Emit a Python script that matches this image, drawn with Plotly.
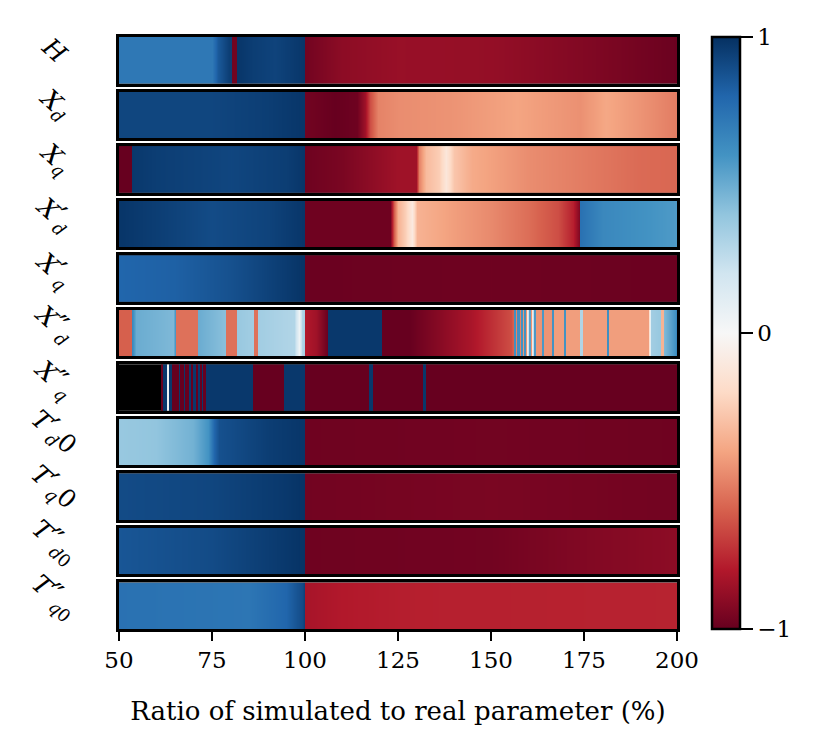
import plotly.graph_objects as go
from plotly.subplots import make_subplots

# row labels, top to bottom
P1 = '<span style="font-size:30px">′</span>'
P2 = '<span style="font-size:30px">″</span>'
labels = [
    "<i>H</i>",
    "<i>X</i><sub><i>d</i></sub>",
    "<i>X</i><sub><i>q</i></sub>",
    "<i>X</i>" + P1 + "<sub><i>d</i></sub>",
    "<i>X</i>" + P1 + "<sub><i>q</i></sub>",
    "<i>X</i>" + P2 + "<sub><i>d</i></sub>",
    "<i>X</i>" + P2 + "<sub><i>q</i></sub>",
    "<i>T</i>" + P1 + "<sub><i>d</i></sub>0",
    "<i>T</i>" + P1 + "<sub><i>q</i></sub>0",
    "<i>T</i>" + P2 + "<sub><i>d</i>0</sub>",
    "<i>T</i>" + P2 + "<sub><i>q</i>0</sub>",
]

# smooth rows: ratio (%) and correlation value
h_x = [50, 75, 76.5, 79.5, 80.2, 80.25, 81.7, 81.75, 86, 92, 99.97, 100.03, 110, 125, 150, 175, 200]
h_v = [0.72, 0.72, 0.85, 0.95, 0.95, -0.97, -0.97, 0.98, 0.95, 0.93, 0.98, -0.97, -0.9, -0.87, -0.88, -0.93, -0.99]

xd_x = [50, 75, 90, 99.97, 100.03, 108, 114, 116, 117.5, 119.5, 125, 140, 157, 165, 174, 181, 190, 200]
xd_v = [0.92, 0.92, 0.95, 0.98, -0.97, -1, -0.98, -0.85, -0.65, -0.5, -0.47, -0.45, -0.4, -0.43, -0.46, -0.39, -0.45, -0.52]

xq_x = [50, 53.38, 53.42, 60, 80, 95, 99.97, 100.03, 110, 125, 129.8, 130.6, 132.5, 136, 138, 140, 145, 160, 175, 190, 200]
xq_v = [-1, -1, 0.97, 0.95, 0.92, 0.95, 0.98, -0.98, -0.95, -0.85, -0.85, -0.5, -0.32, -0.25, -0.12, -0.28, -0.38, -0.47, -0.52, -0.57, -0.58]

xdp_x = [50, 60, 75, 90, 99.97, 100.03, 122.8, 123.8, 125, 127, 128.7, 130, 140, 150, 160, 168, 172, 173.97, 174.03, 180, 200]
xdp_v = [0.98, 0.95, 0.9, 0.93, 0.98, -0.98, -0.98, -0.6, -0.35, -0.25, -0.1, -0.35, -0.42, -0.48, -0.56, -0.65, -0.78, -0.95, 0.75, 0.65, 0.57]

xqp_x = [50, 65, 80, 95, 99.97, 100.03, 150, 200]
xqp_v = [0.8, 0.82, 0.88, 0.96, 0.99, -0.99, -0.98, -0.99]

xdpp_x = [50, 53.38, 53.42, 54.5, 64.5, 65.25, 65.3, 71.2, 71.25, 78.6, 78.65, 81.75, 81.8, 86.15, 86.2, 87.35, 87.4,
          97, 98.5, 99.2, 99.97, 100.03, 103, 106.2, 106.25, 120.55, 120.6, 128, 145, 155.5, 156.0,
          156.2, 156.6, 156.8, 157.1, 157.5, 157.7, 158.0, 158.4, 158.6, 158.9, 159.3, 159.5,
          160.2, 160.6, 160.8, 161.5, 161.9, 162.1,
          163.6, 163.75, 164.15, 164.3, 166.3, 166.45, 166.85, 167.0, 169.5, 169.65, 170.05, 170.2,
          173.8, 173.95, 174.45, 174.6, 181.0, 181.15, 181.55, 181.7,
          192.3, 193, 195.5, 195.8, 196.2, 196.5, 199.5, 200]
xdpp_v = [-0.6, -0.6, 0.65, 0.5, 0.45, 0.65, -0.55, -0.55, 0.5, 0.42, -0.55, -0.55, 0.38, 0.35, -0.55, -0.55, 0.35,
          0.3, 0.05, 0.3, 0.35, -0.8, -0.85, -1, 0.97, 0.97, -1, -1, -0.82, -0.65, -0.6,
          0.62, 0.62, -0.5, 0.62, 0.62, -0.5, 0.6, 0.6, -0.45, 0.6, 0.6, -0.45,
          0.55, 0.55, -0.45, 0.58, 0.58, -0.45,
          -0.45, 0.58, 0.58, -0.45, -0.45, 0.6, 0.6, -0.42, -0.42, 0.6, 0.6, -0.42,
          -0.42, 0.3, 0.3, -0.42, -0.42, 0.62, 0.62, -0.42,
          -0.42, 0.35, 0.38, -0.35, -0.35, 0.45, 0.6, 0.7]

tdp_x = [50, 60, 70, 74, 75.5, 77, 90, 99.97, 100.03, 150, 200]
tdp_v = [0.38, 0.4, 0.48, 0.6, 0.8, 0.88, 0.95, 0.98, -0.98, -0.97, -0.98]

tqp_x = [50, 75, 95, 99.97, 100.03, 150, 200]
tqp_v = [0.9, 0.92, 0.97, 0.99, -0.97, -0.95, -0.97]

tdpp_x = [50, 75, 95, 99.97, 100.03, 150, 175, 200]
tdpp_v = [0.86, 0.9, 0.97, 0.99, -0.98, -0.97, -0.93, -0.9]

tqpp_x = [50, 85, 95, 99.3, 99.97, 100.03, 110, 130, 200]
tqpp_v = [0.75, 0.73, 0.8, 0.9, 0.95, -0.83, -0.8, -0.78, -0.77]

# X''_q row: sharp blocks, cell edges and values (None = not computed)
xqpp_edges = [50, 61.25, 61.79, 62.99, 63.39, 64.33, 66.07, 66.47, 67.41, 67.81, 68.75, 69.42, 69.96,
              70.63, 71.16, 71.70, 72.37, 72.63, 73.30, 86.08, 94.28, 100.09, 117.31, 118.38,
              131.6, 132.5, 200]
xqpp_v = [None, -1, 0.97, 0.05, 0.97, -1, 0.97, -1, 0.97, -1, 0.97, -1, 0.97,
          -1, 0.97, -1, 0.97, -1, 0.97, -1, 0.97, -1, 0.97, -1, 0.97, -1]

smooth_rows = {
    0: (h_x, h_v), 1: (xd_x, xd_v), 2: (xq_x, xq_v), 3: (xdp_x, xdp_v), 4: (xqp_x, xqp_v),
    5: (xdpp_x, xdpp_v), 7: (tdp_x, tdp_v), 8: (tqp_x, tqp_v), 9: (tdpp_x, tdpp_v), 10: (tqpp_x, tqpp_v),
}

rdbu = ["#67001f", "#b2182b", "#d6604d", "#f4a582", "#fddbc7", "#f7f7f7",
        "#d1e5f0", "#92c5de", "#4393c3", "#2166ac", "#053061"]
colorscale = [[i / 10, c] for i, c in enumerate(rdbu)]

FONT = "DejaVu Serif"
n = len(labels)
fig = make_subplots(rows=n, cols=1, shared_xaxes=True, vertical_spacing=0.0135)

for i in range(n):
    common = dict(colorscale=colorscale, zmin=-1, zmax=1, hoverinfo="skip",
                  showscale=(i == 0))
    if i == 0:
        common["colorbar"] = dict(
            x=1.063, xanchor="left", y=0.5, yanchor="middle", len=1.0, lenmode="fraction",
            thickness=28, xpad=0, ypad=0, outlinewidth=2.5, outlinecolor="black",
            tickvals=[-1, 0, 1], ticktext=["−1", "0", "1"], ticks="outside", ticklen=12,
            tickwidth=2, tickcolor="black", tickfont=dict(family=FONT, size=23, color="black"),
        )
    if i in smooth_rows:
        xs, vs = smooth_rows[i]
        fig.add_trace(go.Heatmap(x=xs, y=[0, 1], z=[vs, vs], zsmooth="best", **common), row=i + 1, col=1)
    else:
        fig.add_trace(go.Heatmap(x=xqpp_edges, y=[-0.5, 1.5], z=[xqpp_v], zsmooth=False, **common),
                      row=i + 1, col=1)
    fig.update_yaxes(range=[-0.5, 1.5], showticklabels=False, ticks="", showgrid=False, zeroline=False,
                     showline=True, mirror=True, linecolor="black", linewidth=2.5, row=i + 1, col=1)
    fig.update_xaxes(range=[50, 200], showgrid=False, zeroline=False, showline=True, mirror=True,
                     linecolor="black", linewidth=2.5, row=i + 1, col=1,
                     showticklabels=(i == n - 1), ticks="outside" if i == n - 1 else "")
    ydom = "y domain" if i == 0 else f"y{i + 1} domain"
    fig.add_annotation(text=labels[i], xref="paper", yref=ydom, x=-0.115, y=0.72,
                       xanchor="center", yanchor="middle", textangle=42, showarrow=False,
                       font=dict(family=FONT, size=25, color="black"))

fig.update_xaxes(tickvals=[50, 75, 100, 125, 150, 175, 200], ticklen=9, tickwidth=2, tickcolor="black",
                 tickfont=dict(family=FONT, size=23, color="black"),
                 title=dict(text="Ratio of simulated to real parameter (%)", standoff=30,
                            font=dict(family=FONT, size=26, color="black")),
                 row=n, col=1)

# the page puts the figure 8px in from the top-left corner
fig.update_layout(
    width=832, height=750,
    margin=dict(l=111, r=163, t=29, b=129),
    paper_bgcolor="white", plot_bgcolor="black",
    showlegend=False,
)

fig.write_html("out.html")
